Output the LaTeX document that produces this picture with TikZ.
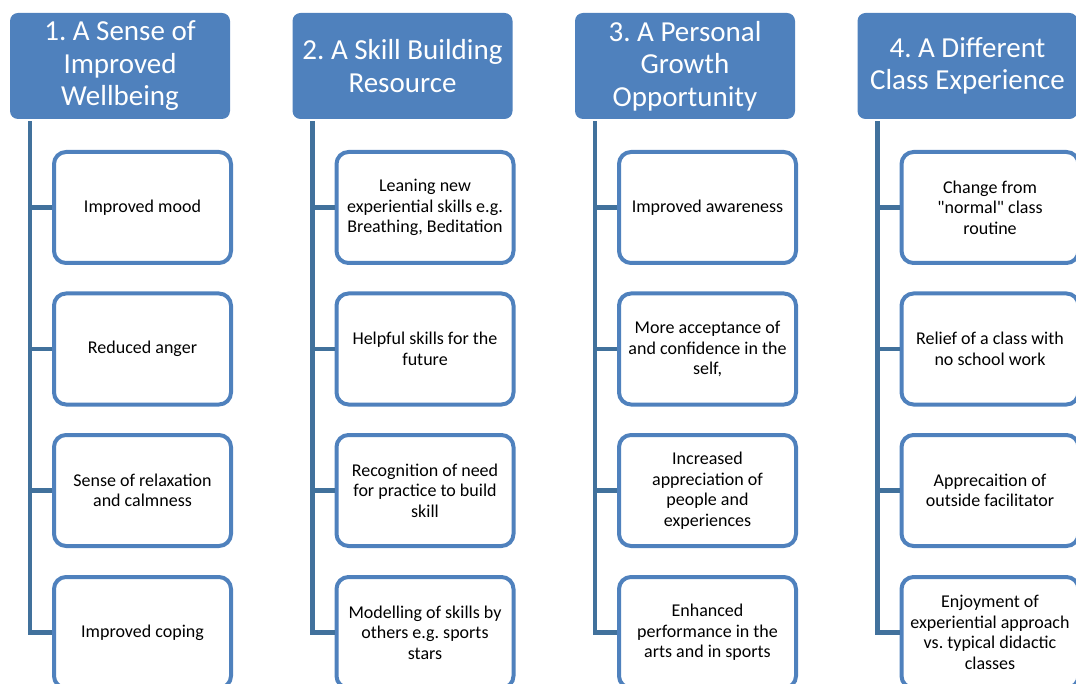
\documentclass[tikz,border=0pt]{standalone}
\usepackage{fontspec}
\setmainfont{Carlito}
\frenchspacing
\definecolor{hdrblue}{HTML}{4F81BD}
\definecolor{linkblue}{HTML}{41719C}

\begin{document}
\begin{tikzpicture}[x=1pt,y=-1pt,
  heading/.style={fill=hdrblue, rounded corners=8pt, minimum width=220pt, minimum height=106pt,
    inner sep=0pt, text=white, align=center, font=\fontsize{29}{32.5}\selectfont},
  item/.style={draw=hdrblue, fill=white, line width=4pt, rounded corners=12pt, minimum width=177pt,
    minimum height=111pt, inner sep=0pt, align=center, font=\fontsize{18}{20.5}\selectfont},
  link/.style={draw=linkblue, line width=4.5pt}]
\useasboundingbox (0,0) rectangle (1076,684);

\draw (120,66)     node (h1) [heading] {1. A Sense of\\Improved\\Wellbeing};
\draw (142.5,207.5) node (a1) [item] {Improved mood};
\draw (142.5,349)   node (a2) [item] {Reduced anger};
\draw (142.5,490.5) node (a3) [item] {Sense of relaxation\\and calmness};
\draw (142.5,632.5) node (a4) [item] {Improved coping};
\coordinate (t1) at ([xshift=20pt,yshift=-2pt]h1.south west);
\draw[link] (t1) |- (a4.west);
\draw[link] (t1 |- a1.west) -- (a1.west);
\draw[link] (t1 |- a2.west) -- (a2.west);
\draw[link] (t1 |- a3.west) -- (a3.west);

\draw (402.5,66)   node (h2) [heading] {2. A Skill Building\\Resource};
\draw (425,207.5)  node (b1) [item] {Leaning new\\experiential skills e.g.\\Breathing, Beditation};
\draw (425,349)    node (b2) [item] {Helpful skills for the\\future};
\draw (425,490.5)  node (b3) [item] {Recognition of need\\for practice to build\\skill};
\draw (425,632.5)  node (b4) [item] {Modelling of skills by\\others e.g. sports\\stars};
\coordinate (t2) at ([xshift=20pt,yshift=-2pt]h2.south west);
\draw[link] (t2) |- (b4.west);
\draw[link] (t2 |- b1.west) -- (b1.west);
\draw[link] (t2 |- b2.west) -- (b2.west);
\draw[link] (t2 |- b3.west) -- (b3.west);

\draw (685,66)     node (h3) [heading] {3. A Personal\\Growth\\Opportunity};
\draw (707.5,207.5) node (c1) [item] {Improved awareness};
\draw (707.5,349)   node (c2) [item] {More acceptance of\\and confidence in the\\self,};
\draw (707.5,490.5) node (c3) [item] {Increased\\appreciation of\\people and\\experiences};
\draw (707.5,632.5) node (c4) [item] {Enhanced\\performance in the\\arts and in sports};
\coordinate (t3) at ([xshift=20pt,yshift=-2pt]h3.south west);
\draw[link] (t3) |- (c4.west);
\draw[link] (t3 |- c1.west) -- (c1.west);
\draw[link] (t3 |- c2.west) -- (c2.west);
\draw[link] (t3 |- c3.west) -- (c3.west);

\draw (967.5,66)   node (h4) [heading] {4. A Different\\Class Experience};
\draw (990,207.5)  node (d1) [item] {Change from\\\textquotedbl normal\textquotedbl{} class\\routine};
\draw (990,349)    node (d2) [item] {Relief of a class with\\no school work};
\draw (990,490.5)  node (d3) [item] {Apprecaition of\\outside facilitator};
\draw (990,632.5)  node (d4) [item] {Enjoyment of\\experiential approach\\vs. typical didactic\\classes};
\coordinate (t4) at ([xshift=20pt,yshift=-2pt]h4.south west);
\draw[link] (t4) |- (d4.west);
\draw[link] (t4 |- d1.west) -- (d1.west);
\draw[link] (t4 |- d2.west) -- (d2.west);
\draw[link] (t4 |- d3.west) -- (d3.west);
\end{tikzpicture}
\end{document}
